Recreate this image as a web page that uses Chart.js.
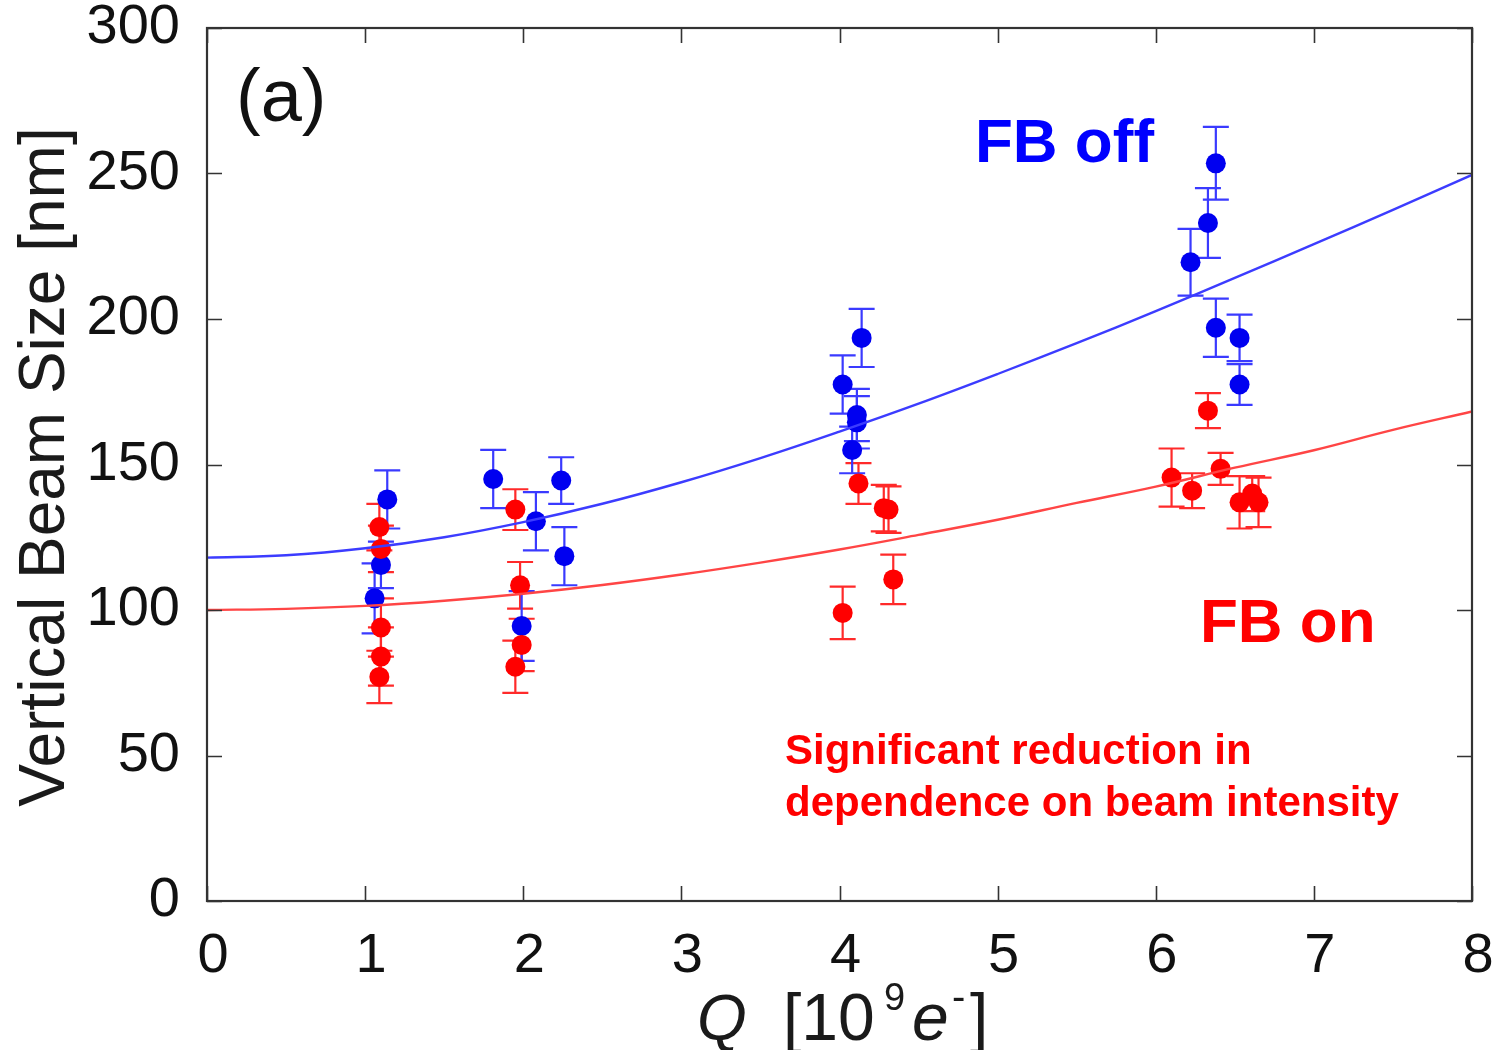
<!DOCTYPE html>
<html><head><meta charset="utf-8">
<script src="https://cdn.jsdelivr.net/npm/chart.js@4/dist/chart.umd.min.js"></script>
<style>html,body{margin:0;padding:0;background:#fff}canvas{display:block}</style>
</head><body>
<canvas id="c" width="1502" height="1050"></canvas>
<script>
// ---- data ----
const offQ   = [1.06, 1.10, 1.14, 1.81, 1.99, 2.08, 2.24, 2.26, 4.02, 4.08, 4.11, 4.11, 4.14, 6.22, 6.33, 6.38, 6.38, 6.53, 6.53];
const offV   = [104, 115.5, 138, 145, 94.5, 130.5, 144.5, 118.5, 177.5, 155, 167, 164.5, 193.5, 219.5, 233, 253.5, 197, 193.5, 177.5];
const offErr = [12, 8, 10, 10, 12, 10, 8, 10, 10, 8, 9, 9, 10, 11.5, 12, 12.5, 10, 8, 7];

const onQ   = [1.09, 1.10, 1.10, 1.10, 1.09, 1.95, 1.98, 1.99, 1.95, 4.02, 4.12, 4.28, 4.31, 4.34, 6.10, 6.23, 6.33, 6.41, 6.53, 6.61, 6.65];
const onV   = [128.5, 121, 94, 84, 77, 134.5, 108.5, 88, 80.5, 99, 143.5, 135, 134.5, 110.5, 145.5, 141, 168.5, 148.5, 137, 140, 137];
const onErr = [8, 8, 10, 10, 9, 7, 8, 9, 9, 9, 7, 8, 8, 8.5, 10, 6, 6, 5.5, 9, 6, 8.5];

const fitQ   = [0, 0.5, 1, 1.5, 2, 2.5, 3, 3.5, 4, 4.5, 5, 5.5, 6, 6.5, 7, 7.5, 8];
const fitOff = [118, 118.8, 121.2, 125.0, 130.2, 136.5, 143.9, 152.2, 161.3, 170.9, 181.1, 191.7, 202.7, 214.1, 225.7, 237.5, 249.5];
const fitOn  = [100, 100.4, 101.4, 103.2, 105.6, 108.6, 112.2, 116.3, 120.8, 125.8, 131.0, 136.8, 142.4, 148.9, 154.9, 161.9, 168.2];

const xTicks = [0, 1, 2, 3, 4, 5, 6, 7, 8];
const yTicks = [0, 50, 100, 150, 200, 250, 300];

const pts = (xs, ys) => xs.map((x, i) => ({x: x, y: ys[i]}));

const BLUE = '#0000f0', RED = '#ff0000';
const BLUE_E = '#3a3aff', RED_E = '#ff2a2a';
const FONT = '"Liberation Sans", Arial, sans-serif';

const errPlugin = {
  id: 'errbars',
  beforeDatasetsDraw(chart) {
    const ctx = chart.ctx, xs = chart.scales.x, ys = chart.scales.y;
    chart.data.datasets.forEach(ds => {
      if (!ds.err) return;
      ctx.save();
      ctx.strokeStyle = ds.errColor;
      ctx.lineWidth = 2.2;
      ds.data.forEach((p, i) => {
        const x = xs.getPixelForValue(p.x);
        const y1 = ys.getPixelForValue(p.y - ds.err[i]);
        const y2 = ys.getPixelForValue(p.y + ds.err[i]);
        ctx.beginPath();
        ctx.moveTo(x, y1); ctx.lineTo(x, y2);
        ctx.moveTo(x - 13, y1); ctx.lineTo(x + 13, y1);
        ctx.moveTo(x - 13, y2); ctx.lineTo(x + 13, y2);
        ctx.stroke();
      });
      ctx.restore();
    });
  },
  afterDraw(chart) {
    const ctx = chart.ctx, a = chart.chartArea, xs = chart.scales.x, ys = chart.scales.y;
    ctx.save();
    ctx.strokeStyle = '#333';
    ctx.lineWidth = 2.2;
    ctx.strokeRect(a.left, a.top, a.right - a.left, a.bottom - a.top);
    ctx.lineWidth = 1.6;
    ctx.beginPath();
    xTicks.forEach(v => {
      const x = Math.round(xs.getPixelForValue(v)) + 0.5;
      ctx.moveTo(x, a.bottom); ctx.lineTo(x, a.bottom - 15);
      ctx.moveTo(x, a.top); ctx.lineTo(x, a.top + 15);
    });
    yTicks.forEach(v => {
      const y = Math.round(ys.getPixelForValue(v)) + 0.5;
      ctx.moveTo(a.left, y); ctx.lineTo(a.left + 15, y);
      ctx.moveTo(a.right, y); ctx.lineTo(a.right - 15, y);
    });
    ctx.stroke();

    // y title
    ctx.fillStyle = '#1a1a1a';
    ctx.save();
    ctx.translate(64, 467);
    ctx.rotate(-Math.PI / 2);
    ctx.font = '64px ' + FONT;
    ctx.textAlign = 'center';
    ctx.textBaseline = 'alphabetic';
    ctx.fillText('Vertical Beam Size [nm]', 0, 0);
    ctx.restore();

    // x title: Q [10^9 e^-]
    const base = 1040;
    ctx.textAlign = 'left'; ctx.textBaseline = 'alphabetic';
    ctx.font = 'italic 64px ' + FONT;
    ctx.fillText('Q', 697, base);
    ctx.font = '66px ' + FONT;
    ctx.fillText('[10', 783, base);
    ctx.font = '38px ' + FONT;
    ctx.fillText('9', 884, base - 30);
    ctx.font = 'italic 66px ' + FONT;
    ctx.fillText('e', 912, base);
    ctx.font = '40px ' + FONT;
    ctx.fillText('-', 952, base - 30);
    ctx.font = '66px ' + FONT;
    ctx.fillText(']', 970, base);

    // annotations
    ctx.fillStyle = '#111';
    ctx.font = '74px ' + FONT;
    ctx.fillText('(a)', 236, 121);
    ctx.font = 'bold 62px ' + FONT;
    ctx.fillStyle = '#0000ff';
    ctx.fillText('FB off', 975, 162);
    ctx.fillStyle = '#ff0000';
    ctx.fillText('FB on', 1200, 642);
    ctx.font = 'bold 42px ' + FONT;
    ctx.fillText('Significant reduction in', 785, 764);
    ctx.fillText('dependence on beam intensity', 785, 816);
    ctx.restore();
  }
};

new Chart(document.getElementById('c'), {
  type: 'scatter',
  data: {
    datasets: [
      { type: 'line', data: pts(fitQ, fitOff), borderColor: '#3c3cff', borderWidth: 2.4, pointRadius: 0, tension: 0.4, fill: false },
      { type: 'line', data: pts(fitQ, fitOn), borderColor: '#ff4545', borderWidth: 2.4, pointRadius: 0, tension: 0.4, fill: false },
      { data: pts(onQ, onV), err: onErr, errColor: RED_E, backgroundColor: RED, borderColor: RED, pointRadius: 10, borderWidth: 0, showLine: false },
      { data: pts(offQ, offV), err: offErr, errColor: BLUE_E, backgroundColor: BLUE, borderColor: BLUE, pointRadius: 10, borderWidth: 0, showLine: false }
    ]
  },
  options: {
    responsive: false,
    animation: false,
    events: [],
    layout: { padding: { left: 0, right: 30, top: 28, bottom: 0 } },
    plugins: { legend: { display: false }, tooltip: { enabled: false } },
    scales: {
      x: {
        type: 'linear', min: 0, max: 8,
        afterBuildTicks: s => { s.ticks = xTicks.map(v => ({value: v})); },
        afterFit: s => { s.height = 149; s.paddingLeft = 0; s.paddingRight = 0; },
        grid: { display: false, drawTicks: false },
        border: { display: false },
        ticks: { padding: 22, labelOffset: 6, color: '#111', font: { family: FONT, size: 56 } }
      },
      y: {
        min: 0, max: 300,
        afterBuildTicks: s => { s.ticks = yTicks.map(v => ({value: v})); },
        afterFit: s => { s.width = 207; s.paddingTop = 0; s.paddingBottom = 0; },
        grid: { display: false, drawTicks: false },
        border: { display: false },
        ticks: { padding: 27, color: '#111', font: { family: FONT, size: 56 } }
      }
    }
  },
  plugins: [errPlugin]
});
</script>
</body></html>
